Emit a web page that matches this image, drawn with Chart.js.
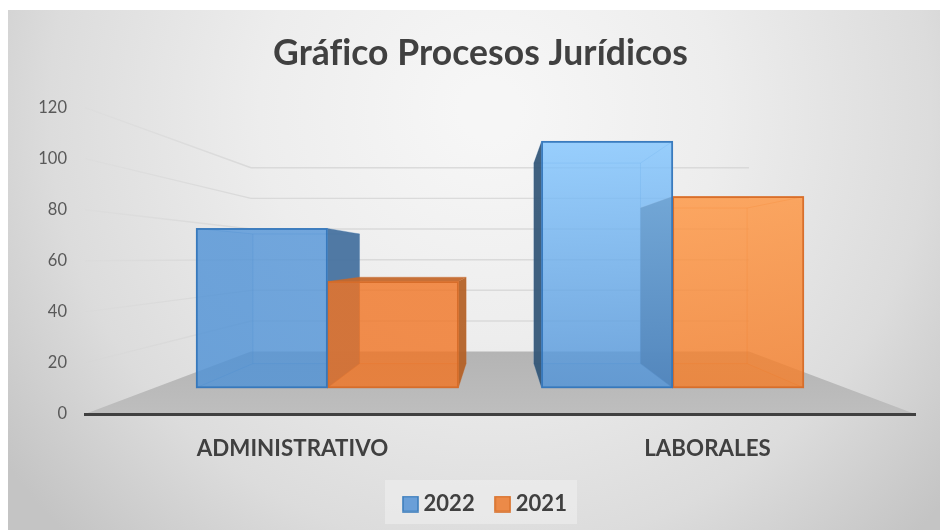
<!DOCTYPE html>
<html>
<head>
<meta charset="utf-8">
<style>html,body{margin:0;padding:0;background:#fff}canvas{display:block}</style>
<script src="https://cdn.jsdelivr.net/npm/chart.js@4"></script>
</head>
<body>
<div style="width:940px;height:531px;position:relative"><canvas id="c" width="940" height="531"></canvas></div>
<script>
const categories = ['ADMINISTRATIVO', 'LABORALES'];
const series2022 = [75, 116];
const series2021 = [50, 90];
const seriesNames = ['2022', '2021'];
const yMax = 120, yStep = 20;

// perspective set-up of the 3D look (shares of the front plane)
const VP = {x: 500, y: 258};
const S_WALL = 0.6, S_FRONT = 0.832, S_BACK = 0.677;

const legendFill = ['#6a9fd8', '#ec8a48'];
const legendEdge = ['#3f7fbd', '#d9702a'];
const edge = ['rgba(52,118,186,0.95)', 'rgba(214,108,40,0.95)'];
const backEdge = ['rgba(60,120,185,0.32)', 'rgba(210,105,40,0.32)'];
// gradient stops of the front faces: [top, bottom] per series, per category
const frontStops = [
  [['rgba(82,148,216,0.8)', 'rgba(80,147,215,0.8)'], ['rgba(129,197,255,0.8)', 'rgba(80,147,216,0.8)']],
  [['rgba(241,116,35,0.8)', 'rgba(241,116,35,0.8)'], ['rgba(255,148,62,0.8)', 'rgba(245,125,40,0.8)']]
];

function pt(x, y, s) { return [VP.x + s * (x - VP.x), VP.y + s * (y - VP.y)]; }
function poly(ctx, pts, fill) {
  ctx.beginPath();
  pts.forEach((p, i) => i ? ctx.lineTo(p[0], p[1]) : ctx.moveTo(p[0], p[1]));
  ctx.closePath();
  ctx.fillStyle = fill;
  ctx.fill();
}

function drawFaces(ctx, bar, ds) {
  const L = bar.x - bar.width / 2, R = bar.x + bar.width / 2, T = bar.y, B = bar.base;
  const fTL = pt(L, T, S_FRONT), fTR = pt(R, T, S_FRONT), fBL = pt(L, B, S_FRONT), fBR = pt(R, B, S_FRONT);
  const bTL = pt(L, T, S_BACK), bTR = pt(R, T, S_BACK), bBL = pt(L, B, S_BACK), bBR = pt(R, B, S_BACK);
  const rightOfEye = bar.x > VP.x;
  const seenFromAbove = bTL[1] < fTL[1];
  const tint = ds === 0 ? '50,100,150' : '190,95,30';
  poly(ctx, [fBL, fBR, bBR, bBL], `rgba(${tint},0.06)`);
  ctx.strokeStyle = backEdge[ds];
  ctx.lineWidth = 1;
  ctx.beginPath();
  [[bTL, bTR], [bTR, bBR], [bBR, bBL], [bBL, bTL], [fTL, bTL], [fTR, bTR], [fBL, bBL], [fBR, bBR]].forEach(s => {
    ctx.moveTo(s[0][0], s[0][1]); ctx.lineTo(s[1][0], s[1][1]);
  });
  ctx.stroke();
  if (rightOfEye) {
    poly(ctx, [fTL, bTL, bBL, fBL], ds === 0 ? 'rgba(50,85,118,0.93)' : 'rgba(90,80,75,0.95)');
  } else {
    poly(ctx, [fTL, bTL, bBL, fBL], `rgba(${tint},0.08)`);
    poly(ctx, [fTR, bTR, bBR, fBR], ds === 0 ? 'rgba(68,112,158,0.93)' : 'rgba(180,98,40,0.95)');
  }
  if (seenFromAbove) poly(ctx, [fTL, fTR, bTR, bTL], ds === 0 ? 'rgba(68,112,158,0.93)' : 'rgba(196,104,44,0.95)');
}

function swatch(fill, stroke) {
  const c = document.createElement('canvas');
  c.width = 17; c.height = 17;
  const x = c.getContext('2d');
  x.fillStyle = fill; x.fillRect(1, 1, 15, 15);
  x.strokeStyle = stroke; x.lineWidth = 1.6; x.strokeRect(1, 1, 15, 15);
  return c;
}

const scene = {
  id: 'scene',
  afterLayout(chart) {
    // Title and legend sit a little off the canvas middle in the reference
    const t = chart.titleBlock, l = chart.legend;
    if (t) { t.left += 19; t.right += 19; t.top -= 1; t.bottom -= 1; }
    if (l) { l.left += 26; l.right += 26; l.top -= 6; l.bottom -= 6; }
  },
  beforeDraw(chart) {
    const {ctx, chartArea: a, scales: {y}} = chart;
    ctx.letterSpacing = '0.05px';
    ctx.save();
    const g = ctx.createRadialGradient(490, 110, 30, 490, 110, 600);
    g.addColorStop(0, '#f6f6f6');
    g.addColorStop(0.35, '#ededed');
    g.addColorStop(0.72, '#dcdcdc');
    g.addColorStop(1, '#c4c4c4');
    ctx.fillStyle = g;
    ctx.fillRect(8, 10, 932, 520);
    ctx.fillStyle = 'rgba(240,240,240,0.55)';
    ctx.fillRect(385, 480, 192, 44);
    const fl = ctx.createLinearGradient(0, pt(0, a.bottom, S_WALL)[1], 0, a.bottom);
    fl.addColorStop(0, '#b4b4b4');
    fl.addColorStop(1, '#bebebe');
    poly(ctx, [[a.left, a.bottom], [a.right, a.bottom], pt(a.right, a.bottom, S_WALL), pt(a.left, a.bottom, S_WALL)], fl);
    y.ticks.forEach(t => {
      if (t.value === 0) return;
      const py = y.getPixelForValue(t.value);
      const p0 = [a.left, py], p1 = pt(a.left, py, S_WALL), p2 = pt(a.right, py, S_WALL);
      const lg = ctx.createLinearGradient(p0[0], 0, p1[0], 0);
      lg.addColorStop(0, 'rgba(210,210,210,0.15)');
      lg.addColorStop(1, 'rgba(214,214,214,0.85)');
      ctx.lineWidth = 1.4;
      ctx.strokeStyle = lg;
      ctx.beginPath(); ctx.moveTo(p0[0], p0[1]); ctx.lineTo(p1[0], p1[1]); ctx.stroke();
      ctx.strokeStyle = 'rgba(214,214,214,0.85)';
      ctx.beginPath(); ctx.moveTo(p1[0], p1[1]); ctx.lineTo(p2[0], p2[1]); ctx.stroke();
    });
    ctx.restore();
  },
  beforeDatasetsDraw(chart) {
    // the bar nearer the eye's axis goes first, so the depth faces overlap as in a 3D chart
    const {ctx} = chart;
    const m0 = chart.getDatasetMeta(0).data, m1 = chart.getDatasetMeta(1).data;
    ctx.save();
    m0.forEach((b0, i) => {
      if (b0.x > VP.x) { drawFaces(ctx, m1[i], 1); drawFaces(ctx, b0, 0); }
      else { drawFaces(ctx, b0, 0); drawFaces(ctx, m1[i], 1); }
    });
    ctx.restore();
  },
  beforeDatasetDraw(chart) {
    // native front faces are drawn on the axes' plane and pushed back by the perspective
    const {ctx} = chart;
    ctx.save();
    ctx.translate(VP.x, VP.y);
    ctx.scale(S_FRONT, S_FRONT);
    ctx.translate(-VP.x, -VP.y);
  },
  afterDatasetDraw(chart, args) {
    const {ctx} = chart;
    ctx.restore();
    // outline of the front faces, inset to sit on the fill
    ctx.save();
    ctx.strokeStyle = edge[args.index];
    ctx.lineWidth = 1.8;
    args.meta.data.forEach(bar => {
      const a = pt(bar.x - bar.width / 2, bar.y, S_FRONT);
      const b = pt(bar.x + bar.width / 2, bar.base, S_FRONT);
      ctx.strokeRect(a[0] + 0.5, a[1] + 0.5, b[0] - a[0] - 1, b[1] - a[1] - 1);
    });
    ctx.restore();
  }
};

function frontFill(ds) {
  return c => {
    const chart = c.chart;
    if (!chart.chartArea || c.dataIndex === undefined) return legendFill[ds];
    const s = frontStops[ds][c.dataIndex];
    const y = chart.scales.y;
    const g = chart.ctx.createLinearGradient(0, y.getPixelForValue(c.raw), 0, y.getPixelForValue(0));
    g.addColorStop(0, s[0]);
    g.addColorStop(1, s[1]);
    return g;
  };
}

new Chart(document.getElementById('c'), {
  type: 'bar',
  plugins: [scene],
  data: {
    labels: categories,
    datasets: [
      {label: seriesNames[0], data: series2022, clip: false, backgroundColor: frontFill(0),
       borderWidth: 0, barPercentage: 1, categoryPercentage: 0.759},
      {label: seriesNames[1], data: series2021, clip: false, backgroundColor: frontFill(1),
       borderWidth: 0, barPercentage: 1, categoryPercentage: 0.759}
    ]
  },
  options: {
    responsive: false,
    animation: false,
    layout: {padding: {left: 8, right: 25, top: 0, bottom: 0}},
    plugins: {
      tooltip: {enabled: false},
      title: {
        display: true,
        text: 'Gráfico Procesos Jurídicos',
        color: '#404040',
        font: {family: 'Lato', size: 35.5, weight: 'bold'},
        padding: {top: 33, bottom: 32}
      },
      legend: {
        position: 'bottom',
        labels: {
          color: '#404040',
          font: {family: 'Lato', size: 22, weight: 'bold'},
          usePointStyle: true, pointStyleWidth: 4, boxHeight: 16, padding: 26,
          generateLabels: chart => Chart.defaults.plugins.legend.labels.generateLabels(chart).map((it, i) => {
            it.pointStyle = swatch(legendFill[i], legendEdge[i]);
            return it;
          })
        }
      }
    },
    scales: {
      x: {
        afterFit: s => { s.height = 59; },
        grid: {display: false},
        border: {display: true, color: '#404040', width: 3},
        ticks: {color: '#404040', padding: 13, font: {family: 'Lato', size: 22.3, weight: 'bold'}}
      },
      y: {
        min: 0, max: yMax,
        afterFit: s => { s.width = 77; },
        grid: {display: false},
        border: {display: false},
        ticks: {stepSize: yStep, padding: 10, color: '#595959', font: {family: 'Lato', size: 16.5}}
      }
    }
  }
});
</script>
</body>
</html>
